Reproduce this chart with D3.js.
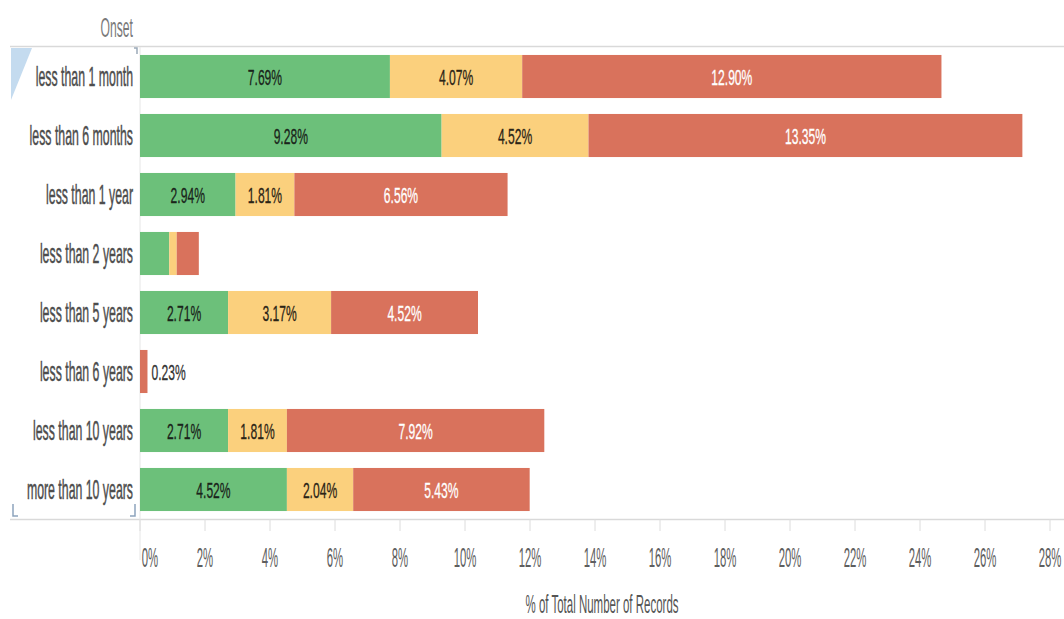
<!DOCTYPE html>
<html>
<head>
<meta charset="utf-8">
<script src="https://cdn.jsdelivr.net/npm/d3@7"></script>
<style>
  html, body { margin: 0; padding: 0; background: #fff; }
  svg { display: block; }
  text { font-family: "Liberation Sans", Arial, sans-serif; }
</style>
</head>
<body>
<svg id="chart" width="1064" height="619"></svg>
<script>
// Onset categories, top to bottom
const categories = [
  "less than 1 month", "less than 6 months", "less than 1 year", "less than 2 years",
  "less than 5 years", "less than 6 years", "less than 10 years", "more than 10 years"
];
// % of total number of records per segment
const greenValues  = [7.69, 9.28, 2.94, 0.90, 2.71, 0, 2.71, 4.52];
const yellowValues = [4.07, 4.52, 1.81, 0.23, 3.17, 0, 1.81, 2.04];
const redValues    = [12.90, 13.35, 6.56, 0.68, 4.52, 0.23, 7.92, 5.43];
const xTicks = [0, 2, 4, 6, 8, 10, 12, 14, 16, 18, 20, 22, 24, 26, 28];

const seriesKeys = ["green", "yellow", "red"];
const colors = { green: "#6cc07a", yellow: "#fbd07d", red: "#d9725c" };
const labelColors = { green: "#1a241a", yellow: "#2b2416", red: "#ffffff" };

const rows = categories.map((c, i) => ({
  onset: c, green: greenValues[i], yellow: yellowValues[i], red: redValues[i]
}));

const svg = d3.select("#chart");
const x = d3.scaleLinear().domain([0, 28]).range([140, 1050]);
const y = d3.scaleBand().domain(categories).range([47, 519]).paddingInner(0.27).paddingOuter(0.135);

const stacked = d3.stack().keys(seriesKeys)(rows);

// narrow text helper: horizontally condensed glyphs
function narrowText(sel, px, py, sx) {
  return sel.attr("transform", `translate(${px},${py}) scale(${sx},1)`);
}

// header rules
svg.append("line").attr("x1", 10).attr("x2", 1064).attr("y1", 46.5).attr("y2", 46.5)
  .attr("stroke", "#d9d9d9").attr("stroke-width", 1.5);
svg.append("line").attr("x1", 10).attr("x2", 1064).attr("y1", 519.5).attr("y2", 519.5)
  .attr("stroke", "#d9d9d9").attr("stroke-width", 1.5);

// row-header selection marks
svg.append("path").attr("d", "M11,48 L32,48 L11,100 Z").attr("fill", "#c4dbef");
svg.append("path").attr("d", "M13,504 L13,516 L18,516").attr("fill", "none")
  .attr("stroke", "#8da4bd").attr("stroke-width", 1.5);
svg.append("path").attr("d", "M135,504 L135,516 L130,516").attr("fill", "none")
  .attr("stroke", "#8da4bd").attr("stroke-width", 1.5);
svg.append("path").attr("d", "M134,48 L137,48 L137,54").attr("fill", "none")
  .attr("stroke", "#9aa9b8").attr("stroke-width", 1.5);

// zero line
svg.append("line").attr("x1", x(0)).attr("x2", x(0)).attr("y1", 47).attr("y2", 560)
  .attr("stroke", "#e6e6e6").attr("stroke-width", 1);

// header "Onset"
narrowText(svg.append("text"), 133, 37, 0.45)
  .attr("text-anchor", "end").attr("font-size", 27).attr("fill", "#7a7a7a").text("Onset");

// category labels
svg.append("g").selectAll("text").data(categories).join("text")
  .each(function (d) {
    narrowText(d3.select(this), 133, y(d) + y.bandwidth() / 2 + 9, 0.44);
  })
  .attr("text-anchor", "end").attr("font-size", 28).attr("fill", "#4d4d4d")
  .attr("stroke", "#4d4d4d").attr("stroke-width", 0.5)
  .text(d => d);

// bars
const layers = svg.append("g").selectAll("g").data(stacked).join("g")
  .attr("fill", d => colors[d.key]);
layers.selectAll("rect").data(d => d.map(s => ({ s, key: d.key })))
  .join("rect")
  .attr("x", d => x(d.s[0]))
  .attr("y", d => y(d.s.data.onset))
  .attr("width", d => x(d.s[1]) - x(d.s[0]))
  .attr("height", y.bandwidth());

// segment labels
const labels = svg.append("g");
stacked.forEach(layer => {
  layer.forEach(s => {
    const v = s[1] - s[0];
    if (v <= 0) return;
    const total = s.data.green + s.data.yellow + s.data.red;
    const cy = y(s.data.onset) + y.bandwidth() / 2 + 8;
    const txt = v.toFixed(2) + "%";
    if (v >= 1.5) {
      narrowText(labels.append("text"), x((s[0] + s[1]) / 2), cy, 0.55)
        .attr("text-anchor", "middle").attr("font-size", 22)
        .attr("fill", labelColors[layer.key])
        .attr("stroke", labelColors[layer.key]).attr("stroke-width", 0.3)
        .text(txt);
    } else if (v === total) {
      narrowText(labels.append("text"), x(s[1]) + 4, cy, 0.55)
        .attr("text-anchor", "start").attr("font-size", 22)
        .attr("fill", "#333").attr("stroke", "#333").attr("stroke-width", 0.3)
        .text(txt);
    }
  });
});

// x axis
const axis = svg.append("g").attr("transform", "translate(0,519)");
axis.selectAll("line").data(xTicks).join("line")
  .attr("x1", d => x(d)).attr("x2", d => x(d)).attr("y1", 0).attr("y2", 12)
  .attr("stroke", "#dcdcdc");
axis.selectAll("text").data(xTicks).join("text")
  .each(function (d) {
    narrowText(d3.select(this), x(d) + (d === 0 ? 10 : 0), 48, 0.42);
  })
  .attr("text-anchor", "middle").attr("font-size", 27).attr("fill", "#5e5e5e")
  .text(d => d + "%");

// axis title
narrowText(svg.append("text"), (x(0) + 1064) / 2, 613, 0.46)
  .attr("text-anchor", "middle").attr("font-size", 25).attr("fill", "#555")
  .text("% of Total Number of Records");
</script>
</body>
</html>
